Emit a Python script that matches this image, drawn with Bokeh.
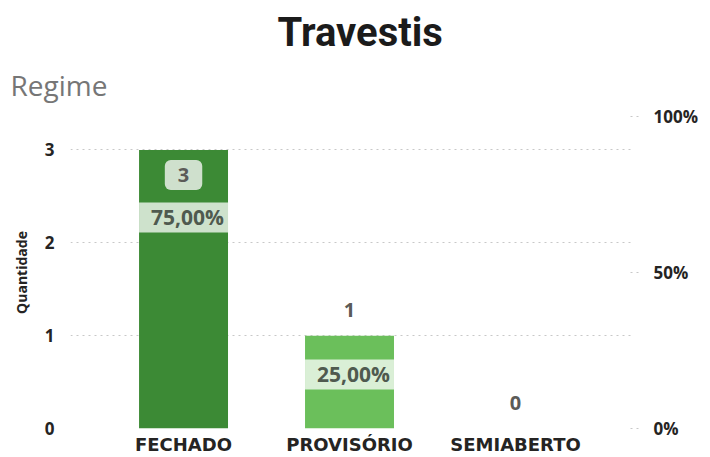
from bokeh.plotting import figure
from bokeh.models import ColumnDataSource, Range1d, LinearAxis, Title, FixedTicker
from bokeh.core.properties import value
from bokeh.embed import file_html
from bokeh.resources import INLINE

# ---- data ----
categories = ["FECHADO", "PROVISÓRIO", "SEMIABERTO"]
counts = [3, 1, 0]
bar_colors = ["#3c8a35", "#6bbf5b", "#a7d89c"]
left_ticks = [0, 1, 2, 3]
right_ticks = [0, 50, 100]
chart_title = "Travestis"
chart_subtitle = "Regime"
y_label = "Quantidade"

total = sum(counts)
xs = list(range(len(categories)))
pct = [c / total * 100 for c in counts]
pct_text = [("%.2f%%" % p).replace(".", ",") for p in pct]

W, H = 710, 457
X0, X1 = -0.681, 2.717
YMAX = 3.36
BAR_W = 0.536
FRAME_H = 314.0
PX_PER_UNIT = FRAME_H / YMAX

p = figure(width=W, height=H, output_backend="svg", toolbar_location=None,
           x_range=Range1d(X0, X1), y_range=Range1d(0, YMAX),
           min_border_left=70, min_border_right=76, min_border_top=116,
           min_border_bottom=0)
p.outline_line_color = None
p.background_fill_color = "white"
p.border_fill_color = "white"

# bars
src = ColumnDataSource(dict(x=xs, top=counts, color=bar_colors, cat=categories))
p.vbar(x="x", top="top", width=BAR_W, fill_color="color", line_color=None, source=src)

# count labels: inside end when the bar reaches the top tick, otherwise outside end
inside = [c >= max(counts) for c in counts]
cnt_in = ColumnDataSource(dict(x=[x for x, i in zip(xs, inside) if i],
                               y=[c for c, i in zip(counts, inside) if i],
                               t=[str(c) for c, i in zip(counts, inside) if i]))
cnt_out = ColumnDataSource(dict(x=[x for x, i in zip(xs, inside) if not i],
                                y=[c for c, i in zip(counts, inside) if not i],
                                t=[str(c) for c, i in zip(counts, inside) if not i]))
p.text(x="x", y="y", text="t", source=cnt_in, y_offset=25,
       text_align="center", text_baseline="middle",
       text_font=value("Open Sans"), text_font_style="bold", text_font_size="20px",
       text_color="#5b5b58", background_fill_color="#cfe0cd", background_fill_alpha=1.0,
       padding=dict(left=13, right=13, top=8, bottom=8), border_radius=6)
p.text(x="x", y="y", text="t", source=cnt_out, y_offset=-26,
       text_align="center", text_baseline="middle",
       text_font=value("Open Sans"), text_font_style="bold", text_font_size="20px",
       text_color="#5b5b58")

# percent labels (bands across the bar)
pct_x, pct_y, pct_t = [], [], []
for x, c, t, i in zip(xs, counts, pct_text, inside):
    if c <= 0:
        continue
    pct_x.append(x)
    pct_t.append(t)
    off = 68 if i else 39
    pct_y.append(c - off / PX_PER_UNIT)
psrc = ColumnDataSource(dict(x=pct_x, y=pct_y, t=pct_t))
p.rect(x="x", y="y", width=BAR_W, height=30, height_units="screen", source=psrc,
       fill_color="white", fill_alpha=0.75, line_color=None)
p.text(x="x", y="y", text="t", source=psrc, x_offset=4,
       text_align="center", text_baseline="middle",
       text_font=value("Open Sans"), text_font_style="bold", text_font_size="21px",
       text_color="#4f5a4f")

# left axis
p.yaxis.ticker = FixedTicker(ticks=left_ticks)
p.yaxis.axis_line_color = None
p.yaxis.major_tick_line_color = None
p.yaxis.major_tick_in = 0
p.yaxis.major_tick_out = 0
p.yaxis.minor_tick_line_color = None
p.yaxis.minor_tick_out = 0
p.yaxis.major_label_standoff = 16
p.yaxis.major_label_text_font = "Open Sans"
p.yaxis.major_label_text_font_style = "bold"
p.yaxis.major_label_text_font_size = "17px"
p.yaxis.major_label_text_color = "#252423"
p.yaxis.axis_label = y_label
p.yaxis.axis_label_text_font = "Open Sans"
p.yaxis.axis_label_text_font_style = "bold"
p.yaxis.axis_label_text_font_size = "14px"
p.yaxis.axis_label_text_color = "#252423"
p.yaxis.axis_label_standoff = 11

# bottom axis
p.xaxis.ticker = FixedTicker(ticks=xs)
p.xaxis.major_label_overrides = {x: c for x, c in zip(xs, categories)}
p.xaxis.axis_line_color = None
p.xaxis.major_tick_line_color = None
p.xaxis.major_tick_in = 0
p.xaxis.major_tick_out = 0
p.xaxis.minor_tick_line_color = None
p.xaxis.minor_tick_out = 0
p.xaxis.major_label_standoff = 5
p.xaxis.major_label_text_font = "DejaVu Sans"
p.xaxis.major_label_text_font_style = "bold"
p.xaxis.major_label_text_font_size = "18px"
p.xaxis.major_label_text_color = "#252423"

# right axis (percent)
p.extra_y_ranges = {"pct": Range1d(0, 100)}
ra = LinearAxis(y_range_name="pct", ticker=FixedTicker(ticks=right_ticks))
ra.major_label_overrides = {t: "%d%%" % t for t in right_ticks}
ra.axis_line_color = None
ra.minor_tick_line_color = None
ra.minor_tick_out = 0
ra.major_tick_in = 8
ra.major_tick_out = 4
ra.major_tick_line_color = "#c8c8c8"
ra.major_tick_line_dash = "2 4"
ra.major_label_standoff = 15
ra.major_label_text_font = "Open Sans"
ra.major_label_text_font_style = "bold"
ra.major_label_text_font_size = "17px"
ra.major_label_text_color = "#252423"
p.add_layout(ra, "right")

# grid
p.xgrid.grid_line_color = None
p.ygrid.ticker = FixedTicker(ticks=left_ticks)
p.ygrid.grid_line_color = "#c8c8c8"
p.ygrid.grid_line_dash = "2 4"
p.ygrid.grid_line_width = 1

# titles
p.add_layout(Title(text=chart_subtitle, align="left", offset=-60, standoff=21,
                   vertical_align="top",
                   text_font="Open Sans", text_font_style="normal",
                   text_font_size="28px", text_color="#767676"), "above")
p.add_layout(Title(text=chart_title, align="left", offset=207, standoff=0,
                   text_font="Roboto", text_font_style="bold",
                   text_font_size="40px", text_color="#1b1b1b"), "above")

open("out.html", "w").write(file_html(p, INLINE))
